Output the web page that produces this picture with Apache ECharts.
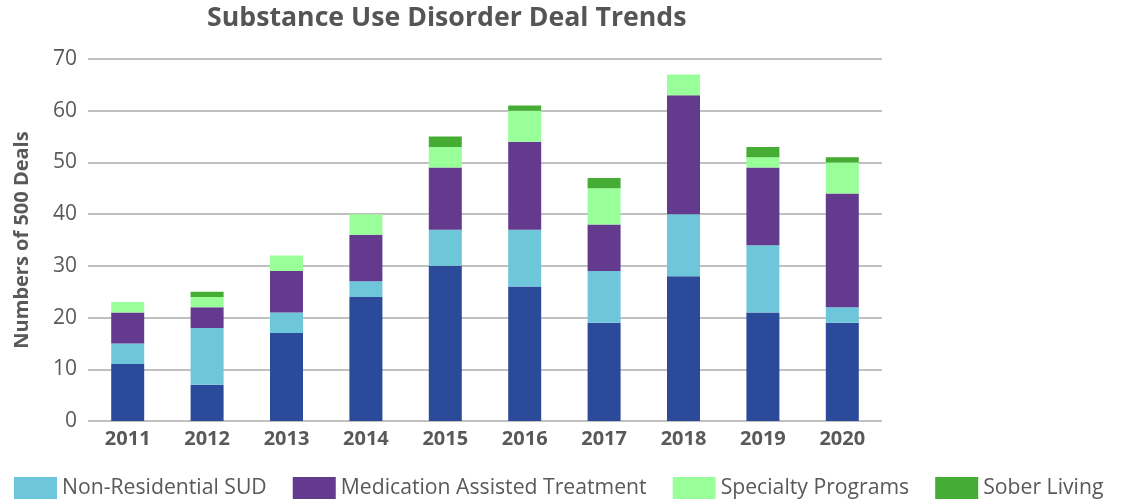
<!DOCTYPE html>
<html>
<head>
<meta charset="utf-8">
<title>Substance Use Disorder Deal Trends</title>
<script src="https://cdn.jsdelivr.net/npm/echarts@6/dist/echarts.min.js"></script>
<style>
  html, body { margin: 0; padding: 0; background: #ffffff; }
  #chart { width: 1127px; height: 502px; }
</style>
</head>
<body>
<div id="chart"></div>
<script>
// Deal counts per year, stacked by program type
const years = ['2011', '2012', '2013', '2014', '2015', '2016', '2017', '2018', '2019', '2020'];
const residentialSUD = [11, 7, 17, 24, 30, 26, 19, 28, 21, 19];
const nonResidentialSUD = [4, 11, 4, 3, 7, 11, 10, 12, 13, 3];
const medicationAssisted = [6, 4, 8, 9, 12, 17, 9, 23, 15, 22];
const specialtyPrograms = [2, 2, 3, 4, 4, 6, 7, 4, 2, 6];
const soberLiving = [0, 1, 0, 0, 2, 1, 2, 0, 2, 1];
const yTicks = { min: 0, max: 70, interval: 10 };

const seriesDefs = [
  { name: 'Residential SUD', data: residentialSUD, color: '#2B4A9A' },
  { name: 'Non-Residential SUD', data: nonResidentialSUD, color: '#6EC6DA' },
  { name: 'Medication Assisted Treatment', data: medicationAssisted, color: '#643A8E' },
  { name: 'Specialty Programs', data: specialtyPrograms, color: '#99FF99' },
  { name: 'Sober Living', data: soberLiving, color: '#45AC34' }
];

const FONT = '"Open Sans", "Noto Sans", sans-serif';
const chart = echarts.init(document.getElementById('chart'), null, { renderer: 'canvas' });

chart.setOption({
  animation: false,
  backgroundColor: '#ffffff',
  title: {
    text: 'Substance Use Disorder Deal Trends',
    left: 207,
    top: 5,
    padding: 0,
    textStyle: { fontFamily: FONT, fontSize: 26.7, fontWeight: 'bold', color: '#555555' }
  },
  legend: {
    data: seriesDefs.slice(1).map(s => s.name),
    left: 14,
    top: 477,
    padding: 0,
    itemWidth: 43,
    itemHeight: 22,
    itemGap: 26,
    icon: 'rect',
    textStyle: { fontFamily: FONT, fontSize: 21.2, color: '#595959' }
  },
  grid: { left: 88, right: 245, top: 59, bottom: 81, containLabel: false, outerBoundsMode: 'none' },
  xAxis: {
    type: 'category',
    data: years,
    axisLine: { show: false },
    axisTick: { show: false },
    axisLabel: { fontFamily: FONT, fontSize: 20, fontWeight: 'bold', color: '#595959', margin: 8 }
  },
  yAxis: {
    type: 'value',
    min: yTicks.min,
    max: yTicks.max,
    interval: yTicks.interval,
    name: 'Numbers of 500 Deals',
    nameLocation: 'middle',
    nameGap: 56,
    nameTextStyle: { fontFamily: FONT, fontSize: 20, fontWeight: 'bold', color: '#595959' },
    axisLine: { show: false },
    axisTick: { show: false },
    axisLabel: { fontFamily: FONT, fontSize: 21, color: '#595959', margin: 11 },
    splitLine: { lineStyle: { color: '#ababab', width: 1.5 } }
  },
  series: seriesDefs.map(s => ({
    name: s.name,
    type: 'bar',
    stack: 'deals',
    data: s.data,
    barWidth: 33,
    itemStyle: { color: s.color },
    emphasis: { disabled: true }
  }))
});
</script>
</body>
</html>
